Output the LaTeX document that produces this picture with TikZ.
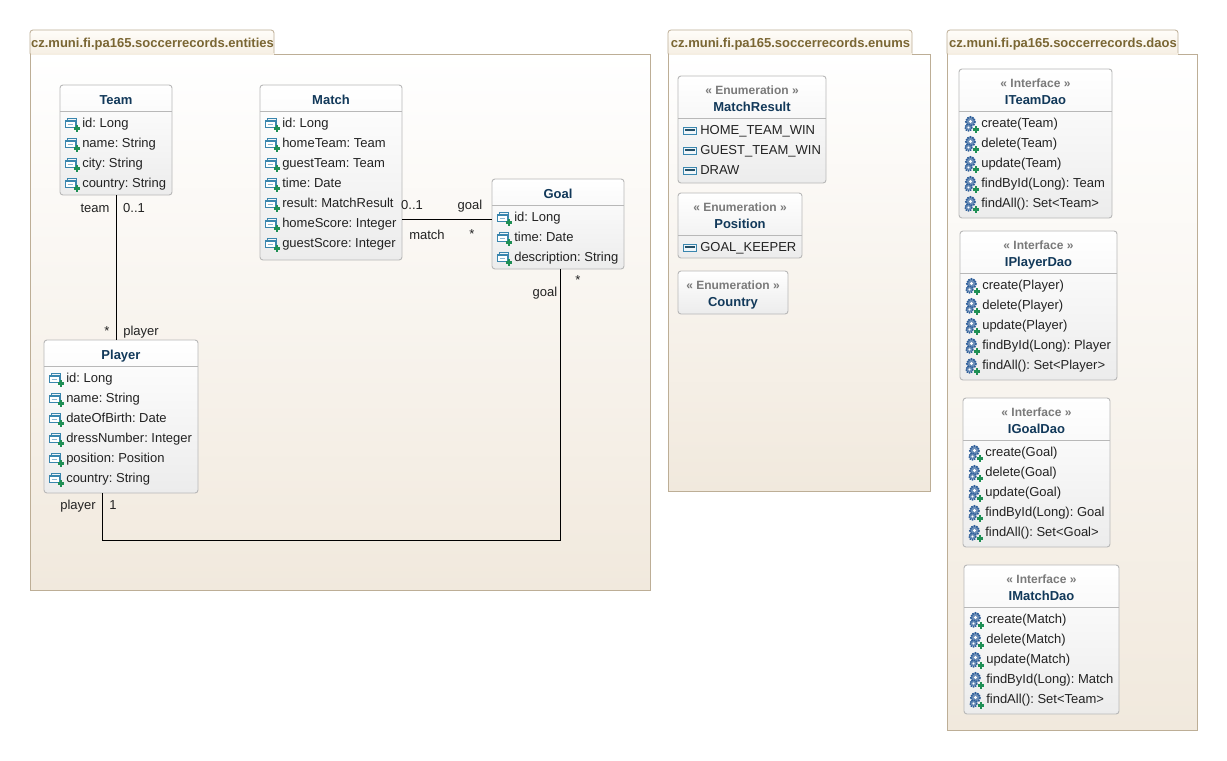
\documentclass[tikz,border=0pt]{standalone}
\usepackage{fontspec}
\setmainfont{Liberation Sans}
\frenchspacing
\definecolor{pkgline}{HTML}{BDAE96}
\definecolor{pkgbot}{HTML}{F1E9DD}
\definecolor{tabtop}{HTML}{FFFDF9}
\definecolor{tabbot}{HTML}{F5EEE2}
\definecolor{tabtext}{HTML}{7A6633}
\definecolor{boxline}{HTML}{B8B8B8}
\definecolor{boxbot}{HTML}{ECECEC}
\definecolor{titletext}{HTML}{12395A}
\definecolor{stereotext}{HTML}{7A7A7A}
\definecolor{rowtext}{HTML}{222222}
\definecolor{iconblue}{HTML}{3A86AE}
\definecolor{icongreen}{HTML}{1F8F55}
\definecolor{gearblue}{HTML}{2F5F9A}
\tikzset{
  x=0.75pt,y=-0.75pt,
  pkgbody/.style={draw=pkgline,line width=0.6pt,top color=white,bottom color=pkgbot,inner sep=0pt,outer sep=0pt},
  pkgtab/.style={draw=pkgline,line width=0.6pt,top color=tabtop,bottom color=tabbot,rounded corners=2.2pt,inner sep=0pt,outer sep=0pt,
    font=\fontsize{9.75pt}{11pt}\selectfont\bfseries,text=tabtext},
  umlbox/.style={draw=boxline,line width=0.7pt,top color=white,bottom color=boxbot,rounded corners=2.2pt,inner sep=0pt,outer sep=0pt},
  divider/.style={draw=boxline,line width=0.6pt},
  titlelabel/.style={font=\fontsize{9.75pt}{11pt}\selectfont\bfseries,text=titletext,anchor=base,inner sep=0pt},
  stereolabel/.style={font=\fontsize{9pt}{11pt}\selectfont\bfseries,text=stereotext,anchor=base,inner sep=0pt},
  rowlabel/.style={font=\fontsize{9.75pt}{11pt}\selectfont,text=rowtext,anchor=base west,inner sep=0pt},
  endlabel/.style={font=\fontsize{9.75pt}{11pt}\selectfont,text=rowtext,anchor=base,inner sep=0pt},
  assoc/.style={draw=black,line width=0.75pt},
  attricon/.pic={
    \draw[iconblue,line width=0.55pt,fill=iconblue!8] (2.5,-4.5) rectangle (11.5,2);
    \draw[iconblue,line width=0.6pt,fill=white] (0.5,-3) rectangle (10,4);
    \draw[iconblue,line width=0.75pt] (0.5,-1.2) -- (10,-1.2);
    \draw[iconblue!60,line width=0.5pt] (2.5,1) -- (8,1);
    \draw[icongreen,line width=1.7pt] (8.5,5.5) -- (15,5.5) (11.75,2.3) -- (11.75,8.7);
  },
  enumicon/.pic={
    \draw[iconblue,line width=0.6pt,fill=iconblue!8] (0,-3) rectangle (13.5,4);
    \draw[iconblue!60!black,line width=0.8pt] (1.5,0) -- (12,0);
  },
  opicon/.pic={
    \draw[gearblue,fill=gearblue!70,line width=1.3pt,dash pattern=on 1.2pt off 0.7pt] (6.5,-1.5) circle (4.6);
    \fill[white] (6.5,-1.5) circle (1.6);
    \draw[gearblue,fill=gearblue!70,line width=1.1pt,dash pattern=on 1pt off 0.7pt] (4.5,4.5) circle (3.4);
    \fill[white] (4.5,4.5) circle (1.1);
    \draw[icongreen,line width=1.7pt] (8.7,6.5) -- (15.2,6.5) (12,3.3) -- (12,9.7);
  },
}
% package: name, left, right of body, bottom, right of tab, text
\newcommand{\umlpackage}[6]{%
  \node[pkgtab,minimum width={(#5-#2)*0.75pt},minimum height={26*0.75pt},anchor=north west,text depth=0pt] (#1tab) at (#2,30) {};
  \node[anchor=base,inner sep=0pt,font=\fontsize{9.75pt}{11pt}\selectfont\bfseries,text=tabtext] (#1title) at ({(#2+#5)/2+0.5},47) {#6};
  \node[pkgbody,minimum width={(#3-#2)*0.75pt},minimum height={(#4-54)*0.75pt},anchor=north west] (#1) at (#2,54) {};
  \path[fill=tabbot] ({#2+0.5},53) rectangle ({#5-0.5},54.6);
}
% box: name, x0, y0, x1, y1
\newcommand{\umlbody}[5]{%
  \node[umlbox,minimum width={(#4-#2)*0.75pt},minimum height={(#5-#3)*0.75pt},anchor=north west] (#1) at (#2,#3) {};
}
% rows: box, x0, first row centre y, pic, list
\newcommand{\umlrows}[5]{%
  \foreach \rowtext [count=\rowidx from 0] in {#5} {
    \pgfmathsetmacro{\rowy}{#3+20*\rowidx}
    \pic at ({#2+5},\rowy) {#4};
    \node[rowlabel] (#1-row\rowidx) at ({#2+22},{\rowy+4.5}) {\rowtext};
  }%
}
\newcommand{\umldiv}[4]{\draw[divider] (#2,#4) -- (#3,#4);}
\begin{document}
\begin{tikzpicture}
\useasboundingbox (0,0) rectangle (1227,760);
\fill[white] (0,0) rectangle (1227,760);

\umlpackage{entities}{30}{650}{590}{274}{cz.muni.fi.pa165.soccerrecords.entities}
\umlpackage{enums}{668}{930}{491}{912}{cz.muni.fi.pa165.soccerrecords.enums}
\umlpackage{daos}{947}{1197}{730}{1178}{cz.muni.fi.pa165.soccerrecords.daos}

% entities
\umlbody{team}{60}{85}{172}{195}
\umldiv{team}{60}{172}{111}
\node[titlelabel] (teamname) at (116,104) {Team};
\umlrows{team}{60}{123}{attricon}{id: Long,name: String,city: String,country: String}

\umlbody{match}{260}{85}{402}{260}
\umldiv{match}{260}{402}{111}
\node[titlelabel] (matchname) at (331,104) {Match};
\umlrows{match}{260}{123}{attricon}{id: Long,homeTeam: Team,guestTeam: Team,time: Date,result: MatchResult,homeScore: Integer,guestScore: Integer}

\umlbody{goal}{492}{179}{624}{269}
\umldiv{goal}{492}{624}{205}
\node[titlelabel] (goalname) at (558,198) {Goal};
\umlrows{goal}{492}{217}{attricon}{id: Long,time: Date,description: String}

\umlbody{player}{44}{340}{198}{493}
\umldiv{player}{44}{198}{366}
\node[titlelabel] (playername) at (121,359) {Player};
\umlrows{player}{44}{378}{attricon}{id: Long,name: String,dateOfBirth: Date,dressNumber: Integer,position: Position,country: String}

% connectors
\coordinate (mgy) at (447,219.5);
\coordinate (pgb) at (102.5,540);
\coordinate (pgc) at (560.5,540);
\coordinate (tpx) at (116.5,300);
\draw[assoc] (tpx |- team.south) -- (tpx |- player.north);
\draw[assoc] (match.east |- mgy) -- (goal.west |- mgy);
\draw[assoc] (pgb |- player.south) -- (pgb) -- (pgc) -- (pgc |- goal.south);

\node[endlabel] (l1) at (95,212) {team};
\node[endlabel] (l2) at (134,212) {0..1};
\node[endlabel] (l3) at (107,335) {*};
\node[endlabel] (l4) at (141,335) {player};
\node[endlabel] (l5) at (412,209) {0..1};
\node[endlabel] (l6) at (470,209) {goal};
\node[endlabel] (l7) at (427,239) {match};
\node[endlabel] (l8) at (472,238) {*};
\node[endlabel] (l9) at (545,296) {goal};
\node[endlabel] (l10) at (578,284) {*};
\node[endlabel] (l11) at (78,509) {player};
\node[endlabel] (l12) at (113,509) {1};

% enums
\umlbody{matchresult}{678}{76}{826}{183}
\umldiv{matchresult}{678}{826}{118}
\node[stereolabel] (mrs) at (752,94) {« Enumeration »};
\node[titlelabel] (mrn) at (752,111) {MatchResult};
\umlrows{matchresult}{678}{130}{enumicon}{HOME\_TEAM\_WIN,GUEST\_TEAM\_WIN,DRAW}

\umlbody{position}{678}{193}{802}{258}
\umldiv{position}{678}{802}{235}
\node[stereolabel] (poss) at (740,211) {« Enumeration »};
\node[titlelabel] (posn) at (740,228) {Position};
\umlrows{position}{678}{247}{enumicon}{GOAL\_KEEPER}

\umlbody{country}{678}{271}{788}{314}
\node[stereolabel] (cous) at (733,289) {« Enumeration »};
\node[titlelabel] (coun) at (733,306) {Country};

% daos
\umlbody{iteamdao}{959}{69}{1112}{218}
\umldiv{iteamdao}{959}{1112}{111}
\node[stereolabel] (its) at (1035.5,87) {« Interface »};
\node[titlelabel] (itn) at (1035.5,104) {ITeamDao};
\umlrows{iteamdao}{959}{123}{opicon}{create(Team),delete(Team),update(Team),findById(Long): Team,findAll(): Set<Team>}

\umlbody{iplayerdao}{960}{231}{1117}{380}
\umldiv{iplayerdao}{960}{1117}{273}
\node[stereolabel] (ips) at (1038.5,249) {« Interface »};
\node[titlelabel] (ipn) at (1038.5,266) {IPlayerDao};
\umlrows{iplayerdao}{960}{285}{opicon}{create(Player),delete(Player),update(Player),findById(Long): Player,findAll(): Set<Player>}

\umlbody{igoaldao}{963}{398}{1110}{547}
\umldiv{igoaldao}{963}{1110}{440}
\node[stereolabel] (igs) at (1036.5,416) {« Interface »};
\node[titlelabel] (ign) at (1036.5,433) {IGoalDao};
\umlrows{igoaldao}{963}{452}{opicon}{create(Goal),delete(Goal),update(Goal),findById(Long): Goal,findAll(): Set<Goal>}

\umlbody{imatchdao}{964}{565}{1119}{714}
\umldiv{imatchdao}{964}{1119}{607}
\node[stereolabel] (ims) at (1041.5,583) {« Interface »};
\node[titlelabel] (imn) at (1041.5,600) {IMatchDao};
\umlrows{imatchdao}{964}{619}{opicon}{create(Match),delete(Match),update(Match),findById(Long): Match,findAll(): Set<Team>}
\end{tikzpicture}
\end{document}
